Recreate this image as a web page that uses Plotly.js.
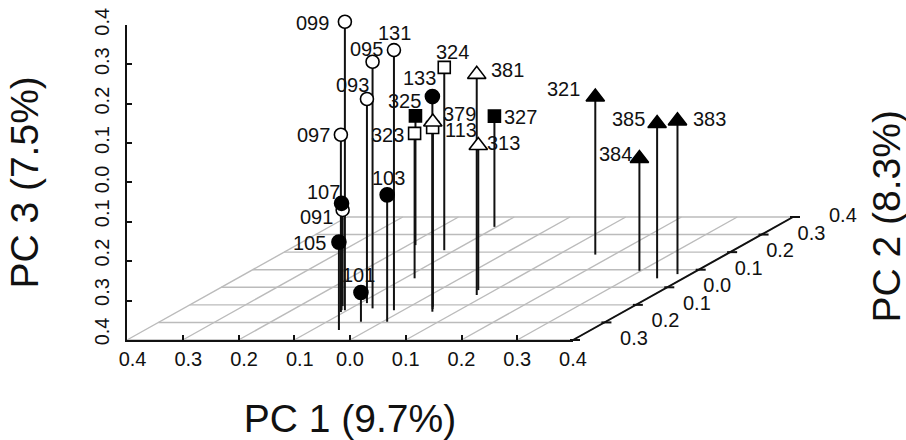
<!DOCTYPE html>
<html>
<head>
<meta charset="utf-8">
<script src="https://cdn.plot.ly/plotly-3.0.1.min.js"></script>
<style>html,body{margin:0;padding:0;background:#fff}#chart{width:906px;height:440px}</style>
</head>
<body>
<div id="chart"></div>
<script>
// ---------- data ----------
const sampleIds = ['091','093','095','097','099','131','101','103','105','107','133','113','323','324','325','327','313','379','381','321','383','384','385'];
const groups    = ['oc','oc','oc','oc','oc','oc','fc','fc','fc','fc','fc','os','os','os','fs','fs','ot','ot','ot','ft','ft','ft','ft'];
const pc1 = [-0.122,-0.088,-0.061,-0.106,-0.105,-0.017,-0.039, 0.008,-0.052,-0.111, 0.057, 0.049,-0.082,-0.119,-0.187,-0.104, 0.070, 0.042, 0.083, 0.166, 0.376, 0.297, 0.353];
const pc2 = [-0.107,-0.090,-0.120,-0.141,-0.130,-0.130,-0.196,-0.196,-0.243,-0.130,-0.139,-0.124, 0.051, 0.211, 0.240, 0.344,-0.016,-0.111,-0.044, 0.186, 0.075, 0.094, 0.051];
const pc3 = [-0.156, 0.118, 0.226, 0.050, 0.332, 0.260,-0.326,-0.078,-0.177,-0.129, 0.146, 0.061,-0.032, 0.064,-0.072,-0.119,-0.033, 0.069, 0.160, 0.000,-0.011,-0.115,-0.007];

const pc1Ticks = [-0.4,-0.3,-0.2,-0.1,0.0,0.1,0.2,0.3,0.4];
const pc1TickLabels = ['\u20070.4','\u20070.3','\u20070.2','\u20070.1','0.0','0.1','0.2','0.3','0.4'];
const pc2Ticks = [-0.3,-0.2,-0.1,0.0,0.1,0.2,0.3,0.4];
const pc2TickLabels = ['\u20070.3','\u20070.2','\u20070.1','0.0','0.1','0.2','0.3','0.4'];
const pc3Ticks = [-0.4,-0.3,-0.2,-0.1,0.0,0.1,0.2,0.3,0.4];
const pc3TickLabels = ['\u20070.4','\u20070.3','\u20070.2','\u20070.1','0.0','0.1','0.2','0.3','0.4'];

const titlePC1 = 'PC 1 (9.7%)';
const titlePC2 = 'PC 2 (8.3%)';
const titlePC3 = 'PC 3 (7.5%)';

// ---------- styles / layout geometry ----------
const W = 906, H = 440;
const X0 = 127, X1 = 573;        // pixel span of PC1 axis
const ZB = 340, ZT = 24.8;       // pixel span of PC3 axis (bottom, top)
const pxPerX = (X1 - X0) / 0.8;
const pxPerZ = (ZB - ZT) / 0.8;
const depthDX = 220 / 0.7, depthDY = 123 / 0.7;   // screen shift per PC2 unit
const kx = depthDX / pxPerX, kz = depthDY / pxPerZ;
const yMin = -0.3, yMax = 0.4, xMin = -0.4, xMax = 0.4, zMin = -0.4;

const xr = [xMin - X0 / pxPerX, xMin + (W - X0) / pxPerX];
const yr = [zMin - (H - ZB) / pxPerZ, zMin + ZB / pxPerZ];

function proj(x, y, z) { return [x + (y - yMin) * kx, z + (y - yMin) * kz]; }

const symbolOf = {oc:'circle', fc:'circle', os:'square', fs:'square', ot:'triangle-up', ft:'triangle-up'};
const fillOf   = {oc:'#ffffff', fc:'#000000', os:'#ffffff', fs:'#000000', ot:'#ffffff', ft:'#000000'};
const sizeOf   = {oc:13, fc:14, os:12, fs:12, ot:16, ft:16};
// label offset of each sample label from its point (screen px, y down)
const labelDX = [-26,-14,-6,-27,-32,1,-2,1,-29,-18,-13,28,-27,8,-10.5,26,25,27,31,-32,32,-24,-29];
const labelDY = [7.5,-14.5,-13,0.5,1,-17.5,-17.5,-16.5,0.5,-11,-19,3,2,-15,-15,0.5,-3,-8.5,-4,-8,-1.5,-4,-4];

const FONT = 'Liberation Sans, Arial, sans-serif';
const INK = '#111111';
const GRID = '#bbbbbb';

// ---------- traces ----------
const gx = [], gy = [];
pc1Ticks.forEach(t => { const a = proj(t, yMin, zMin), b = proj(t, yMax, zMin); gx.push(a[0], b[0], null); gy.push(a[1], b[1], null); });
pc2Ticks.forEach(s => { const a = proj(xMin, s, zMin), b = proj(xMax, s, zMin); gx.push(a[0], b[0], null); gy.push(a[1], b[1], null); });
const gridTrace = {x: gx, y: gy, mode: 'lines', line: {color: GRID, width: 1.4}, hoverinfo: 'skip', showlegend: false};

const ax = [], ay = [];
{ const a = proj(xMax, yMin, zMin), b = proj(xMax, yMax, zMin); ax.push(a[0], b[0], null); ay.push(a[1], b[1], null); }
pc2Ticks.forEach(s => { const p = proj(xMax, s, zMin); ax.push(p[0] - 3 / pxPerX, p[0] + 7 / pxPerX, null); ay.push(p[1], p[1], null); });
const pc2AxisTrace = {x: ax, y: ay, mode: 'lines', line: {color: INK, width: 2}, hoverinfo: 'skip', showlegend: false};

const pc2LabelTrace = {
  x: pc2Ticks.map(s => proj(xMax, s, zMin)[0] + 36 / pxPerX),
  y: pc2Ticks.map(s => proj(xMax, s, zMin)[1]),
  text: pc2TickLabels, mode: 'text', textposition: 'middle right',
  textfont: {family: FONT, size: 20, color: INK}, hoverinfo: 'skip', showlegend: false, cliponaxis: false
};

const dx = [], dy = [];
sampleIds.forEach((id, i) => {
  const top = proj(pc1[i], pc2[i], pc3[i]), bot = proj(pc1[i], pc2[i], zMin);
  dx.push(top[0], bot[0], null); dy.push(top[1], bot[1], null);
});
const dropTrace = {x: dx, y: dy, mode: 'lines', line: {color: INK, width: 2}, hoverinfo: 'skip', showlegend: false};

const pts = sampleIds.map((id, i) => proj(pc1[i], pc2[i], pc3[i]));
const pointTrace = {
  x: pts.map(p => p[0]), y: pts.map(p => p[1]), mode: 'markers', text: sampleIds,
  marker: {
    symbol: groups.map(g => symbolOf[g]), color: groups.map(g => fillOf[g]), size: groups.map(g => sizeOf[g]),
    opacity: 1, line: {color: '#000000', width: 1.6}
  },
  hoverinfo: 'text', showlegend: false, cliponaxis: false
};

const dummy = {x: [0], y: [0], xaxis: 'x2', yaxis: 'y2', mode: 'markers', marker: {opacity: 0}, hoverinfo: 'skip', showlegend: false};

const annotations = sampleIds.map((id, i) => ({
  x: pts[i][0], y: pts[i][1], xref: 'x', yref: 'y', text: id, showarrow: false,
  xanchor: 'center', yanchor: 'middle', xshift: labelDX[i], yshift: -labelDY[i],
  font: {family: FONT, size: 20, color: INK}
}));
annotations.push({
  xref: 'paper', yref: 'paper', x: 886 / W, y: 1 - 216.5 / H, text: titlePC2, textangle: -90,
  showarrow: false, xanchor: 'center', yanchor: 'middle', font: {family: FONT, size: 39, color: INK}
});

const layout = {
  width: W, height: H, margin: {l: 0, r: 0, t: 0, b: 0},
  paper_bgcolor: '#ffffff', plot_bgcolor: 'rgba(0,0,0,0)', showlegend: false,
  font: {family: FONT, color: INK},
  xaxis: {range: xr, visible: false, fixedrange: true},
  yaxis: {range: yr, visible: false, fixedrange: true},
  xaxis2: {
    domain: [X0 / W, X1 / W], range: [xMin, xMax], anchor: 'y2',
    tickmode: 'array', tickvals: pc1Ticks, ticktext: pc1TickLabels,
    showline: true, linecolor: INK, linewidth: 2, mirror: false,
    ticks: 'inside', ticklen: 5, tickwidth: 2, tickcolor: INK, ticklabelstandoff: 0,
    tickfont: {family: FONT, size: 20, color: INK},
    showgrid: false, zeroline: false, fixedrange: true,
    title: {text: titlePC1, font: {family: FONT, size: 39, color: INK}, standoff: 38}
  },
  yaxis2: {
    domain: [(H - ZB) / H, (H - ZT) / H], range: [zMin, 0.4], anchor: 'x2',
    tickmode: 'array', tickvals: pc3Ticks, ticktext: pc3TickLabels, tickangle: -90,
    showline: true, linecolor: INK, linewidth: 2,
    ticks: 'inside', ticklen: 5, tickwidth: 2, tickcolor: INK, ticklabelstandoff: 8,
    tickfont: {family: FONT, size: 20, color: INK},
    showgrid: false, zeroline: false, fixedrange: true,
    title: {text: titlePC3, font: {family: FONT, size: 39, color: INK}, standoff: 40}
  },
  annotations: annotations
};

Plotly.newPlot('chart', [gridTrace, pc2AxisTrace, pc2LabelTrace, dropTrace, pointTrace, dummy], layout, {displayModeBar: false, staticPlot: true});
</script>
</body>
</html>
